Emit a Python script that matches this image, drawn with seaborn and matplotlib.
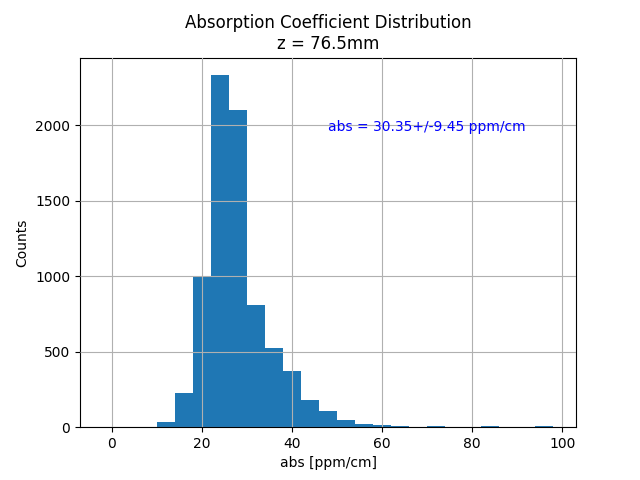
import numpy as np
import pandas as pd
import matplotlib
matplotlib.use("Agg")
import matplotlib.pyplot as plt
import seaborn as sns

bin_edges = np.arange(-2, 99, 4)
bin_centers = (bin_edges[:-1] + bin_edges[1:]) / 2
counts = [0, 0, 0, 35, 225, 1000, 2330, 2100, 810, 525, 370, 180, 105,
          50, 20, 12, 5, 0, 10, 2, 0, 5, 4, 0, 5]
df = pd.DataFrame({"abs": bin_centers, "n": counts})

fig, ax = plt.subplots(figsize=(6.4, 4.8), dpi=100)
sns.histplot(data=df, x="abs", weights="n", bins=list(bin_edges), ax=ax,
             color="#1f77b4", alpha=1, edgecolor="none", linewidth=0)
ax.grid(True)
ax.set_axisbelow(False)
ax.set_xlabel("abs [ppm/cm]")
ax.set_ylabel("Counts")
ax.set_title("Absorption Coefficient Distribution\nz = 76.5mm")
ax.text(48, 1960, "abs = 30.35+/-9.45 ppm/cm", color="blue")
plt.savefig("out.png", dpi=100)
